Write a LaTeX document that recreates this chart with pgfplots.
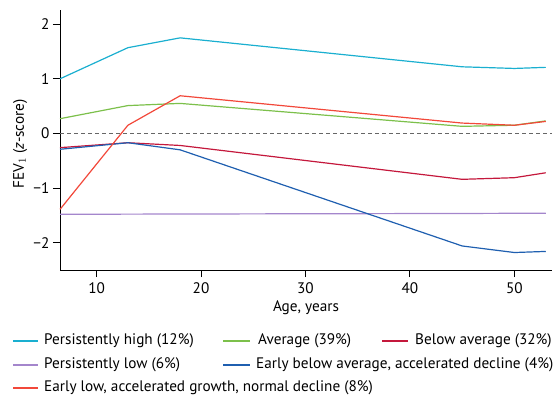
\documentclass[border=0pt]{standalone}
\usepackage{fontspec}
\setmainfont{PT Sans}
\usepackage{pgfplots}
\pgfplotsset{compat=1.18}
\definecolor{cHigh}{HTML}{1AAFD0}
\definecolor{cAvg}{HTML}{7CC04B}
\definecolor{cBelow}{HTML}{C4183C}
\definecolor{cLow}{HTML}{A486CC}
\definecolor{cEarlyB}{HTML}{1F5FB0}
\definecolor{cEarlyL}{HTML}{F2483A}
\begin{document}
\begin{tikzpicture}[x=1bp,y=1bp,font=\fontsize{15.3}{18}\selectfont]
\useasboundingbox (0,0) rectangle (553,402);
\begin{axis}[
  at={(60bp,132bp)}, anchor=south west,
  scale only axis, width=492bp, height=260bp,
  xmin=6.5, xmax=53.6, ymin=-2.5, ymax=2.26,
  axis x line*=bottom, axis y line*=left,
  axis line style={line width=1bp, black},
  xtick={10,20,30,40,50}, xticklabels={10,20,30,40,50},
  ytick={-2,-1,0,1,2}, yticklabels={−2,−1,0,1,2},
  tick align=outside, major tick length=7bp,
  tick style={black, line width=0.9bp},
  x tick label style={yshift=-2bp},
  xlabel={Age, years}, ylabel={FEV$_1$ (\textit{z}-score)},
  xlabel style={at={(axis description cs:0.5,0)}, anchor=center, yshift=-38bp},
  ylabel style={at={(axis description cs:-0.0813,0.485)}, anchor=center},
  every axis plot/.append style={line width=1.2bp},
  clip=false,
]
\addplot[gray!80!black, line width=1bp, dash pattern=on 4bp off 3bp] coordinates {(6.5,0) (53.6,0)};
\addplot[cHigh] coordinates {(6.5,1.00) (13,1.57) (18,1.75) (45,1.22) (50,1.19) (53,1.21)};
\addplot[cAvg] coordinates {(6.5,0.27) (13,0.51) (18,0.55) (45,0.13) (50,0.15) (53,0.23)};
\addplot[cBelow] coordinates {(6.5,-0.26) (13,-0.17) (18,-0.22) (45,-0.84) (50,-0.81) (53,-0.72)};
\addplot[cLow] coordinates {(6.5,-1.48) (18,-1.475) (45,-1.465) (53,-1.46)};
\addplot[cEarlyB] coordinates {(6.5,-0.29) (13,-0.17) (18,-0.30) (45,-2.06) (50,-2.18) (53,-2.16)};
\addplot[cEarlyL] coordinates {(6.5,-1.39) (13,0.15) (18,0.69) (45,0.19) (50,0.15) (53,0.22)};
\end{axis}
% legend
\begin{scope}[every node/.style={anchor=west, inner sep=0pt}]
\draw[cHigh, line width=1.2bp] (13,61) -- (38,61); \node at (44,61) {Persistently high (12\%)};
\draw[cAvg, line width=1.2bp] (223,61) -- (250,61); \node at (258,61) {Average (39\%)};
\draw[cBelow, line width=1.2bp] (382,61) -- (408,61); \node at (415,61) {Below average (32\%)};
\draw[cLow, line width=1.2bp] (13,37) -- (38,37); \node at (44,37) {Persistently low (6\%)};
\draw[cEarlyB, line width=1.2bp] (223,37) -- (250,37); \node at (256,37) {Early below average, accelerated decline (4\%)};
\draw[cEarlyL, line width=1.2bp] (13,14) -- (38,14); \node at (44,14) {Early low, accelerated growth, normal decline (8\%)};
\end{scope}
\end{tikzpicture}
\end{document}
